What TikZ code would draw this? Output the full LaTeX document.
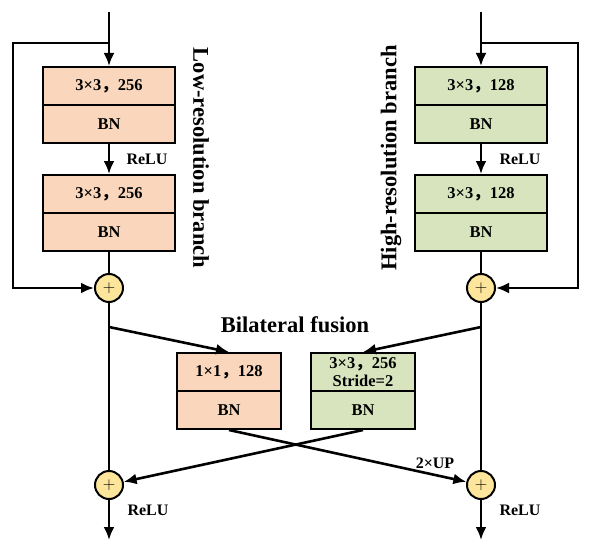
\documentclass[tikz,border=0pt]{standalone}
\usepackage{fontspec}
\setmainfont{Liberation Serif}
\newfontfamily\cjk{Noto Sans CJK SC}
\usetikzlibrary{arrows.meta}
\definecolor{lowfill}{HTML}{F9D6BC}
\definecolor{highfill}{HTML}{D7E4BE}
\definecolor{sumfill}{HTML}{FDE59B}
\newcommand{\cma}{{\cjk ，}}
\tikzset{
  half/.style={draw, line width=2pt, minimum width=132pt, minimum height=38pt,
    inner sep=0pt, font=\fontsize{16.5}{19}\selectfont\bfseries},
  lowbox/.style={half, fill=lowfill},
  highbox/.style={half, fill=highfill},
  fusebox/.style={minimum width=104pt},
  sum/.style={draw, line width=2pt, circle, fill=sumfill, minimum size=28pt,
    inner sep=0pt, font=\fontsize{16}{16}\selectfont},
  arr/.style={-{Latex[length=13pt,width=11pt]}, line width=2.6pt},
  ln/.style={line width=2.6pt},
  lbl/.style={font=\fontsize{16}{18}\selectfont\bfseries},
  title/.style={font=\fontsize{22.5}{25}\selectfont\bfseries}
}
\begin{document}
\begin{tikzpicture}[x=1pt,y=-1pt]
\useasboundingbox (0,0) rectangle (594,551);

% low-resolution branch
\node[lowbox] (lconvA) at (109,86) {3×3\cma 256};
\node[lowbox] (lbnA) at (109,124) {BN};
\node[lowbox] (lconvB) at (109,194) {3×3\cma 256};
\node[lowbox] (lbnB) at (109,232) {BN};
\node[sum] (lsum) at (109,288) {$+$};

% high-resolution branch
\node[highbox] (hconvA) at (481,86) {3×3\cma 128};
\node[highbox] (hbnA) at (481,124) {BN};
\node[highbox] (hconvB) at (481,194) {3×3\cma 128};
\node[highbox] (hbnB) at (481,232) {BN};
\node[sum] (hsum) at (481,288) {$+$};

% fusion
\node[lowbox,fusebox] (fconvL) at (229,372) {1×1\cma 128};
\node[lowbox,fusebox] (fbnL) at (229,410) {BN};
\node[highbox,fusebox,align=center,font=\fontsize{16.5}{20}\selectfont\bfseries] (fconvH) at (363,372) {3×3\cma 256\\[-2pt]Stride=2};
\node[highbox,fusebox] (fbnH) at (363,410) {BN};
\node[sum] (lsumB) at (109,485) {$+$};
\node[sum] (hsumB) at (481,485) {$+$};

\coordinate (lin) at (109,12);
\coordinate (ltap) at (109,43);
\coordinate (lleft) at (13,43);
\coordinate (lfork) at (109,327);
\coordinate (lout) at (109,540);
\coordinate (hin) at (481,12);
\coordinate (htap) at (481,43);
\coordinate (hright) at (578,43);
\coordinate (hfork) at (481,327);
\coordinate (hout) at (481,540);

% connectors
\draw[arr] (lin) -- (lconvA);
\draw[arr] (lbnA) -- (lconvB);
\draw[ln] (lbnB) -- (lsum);
\draw[arr] (ltap) -- (lleft) |- (lsum);
\draw[ln] (lsum) -- (lsumB);
\draw[arr] (lfork) -- (fconvL.north);
\draw[arr] (lsumB) -- (lout);

\draw[arr] (hin) -- (hconvA);
\draw[arr] (hbnA) -- (hconvB);
\draw[ln] (hbnB) -- (hsum);
\draw[arr] (htap) -- (hright) |- (hsum);
\draw[ln] (hsum) -- (hsumB);
\draw[arr] (hfork) -- (fconvH.north);
\draw[arr] (hsumB) -- (hout);

\draw[arr] (fbnL.south) -- (hsumB);
\draw[arr] (fbnH.south) -- (lsumB);

% labels
\node[lbl] (reluLA) at (147,159) {ReLU};
\node[lbl] (reluHA) at (520,159) {ReLU};
\node[lbl] (reluLB) at (148,510) {ReLU};
\node[lbl] (reluHB) at (520,510) {ReLU};
\node[lbl] (up) at (435,463) {2×UP};
\node[title] (fusion) at (295,325) {Bilateral fusion};
\node[title,rotate=-90] (lowname) at (201,158) {Low-resolution branch};
\node[title,rotate=90] (highname) at (391,158) {High-resolution branch};
\end{tikzpicture}
\end{document}
